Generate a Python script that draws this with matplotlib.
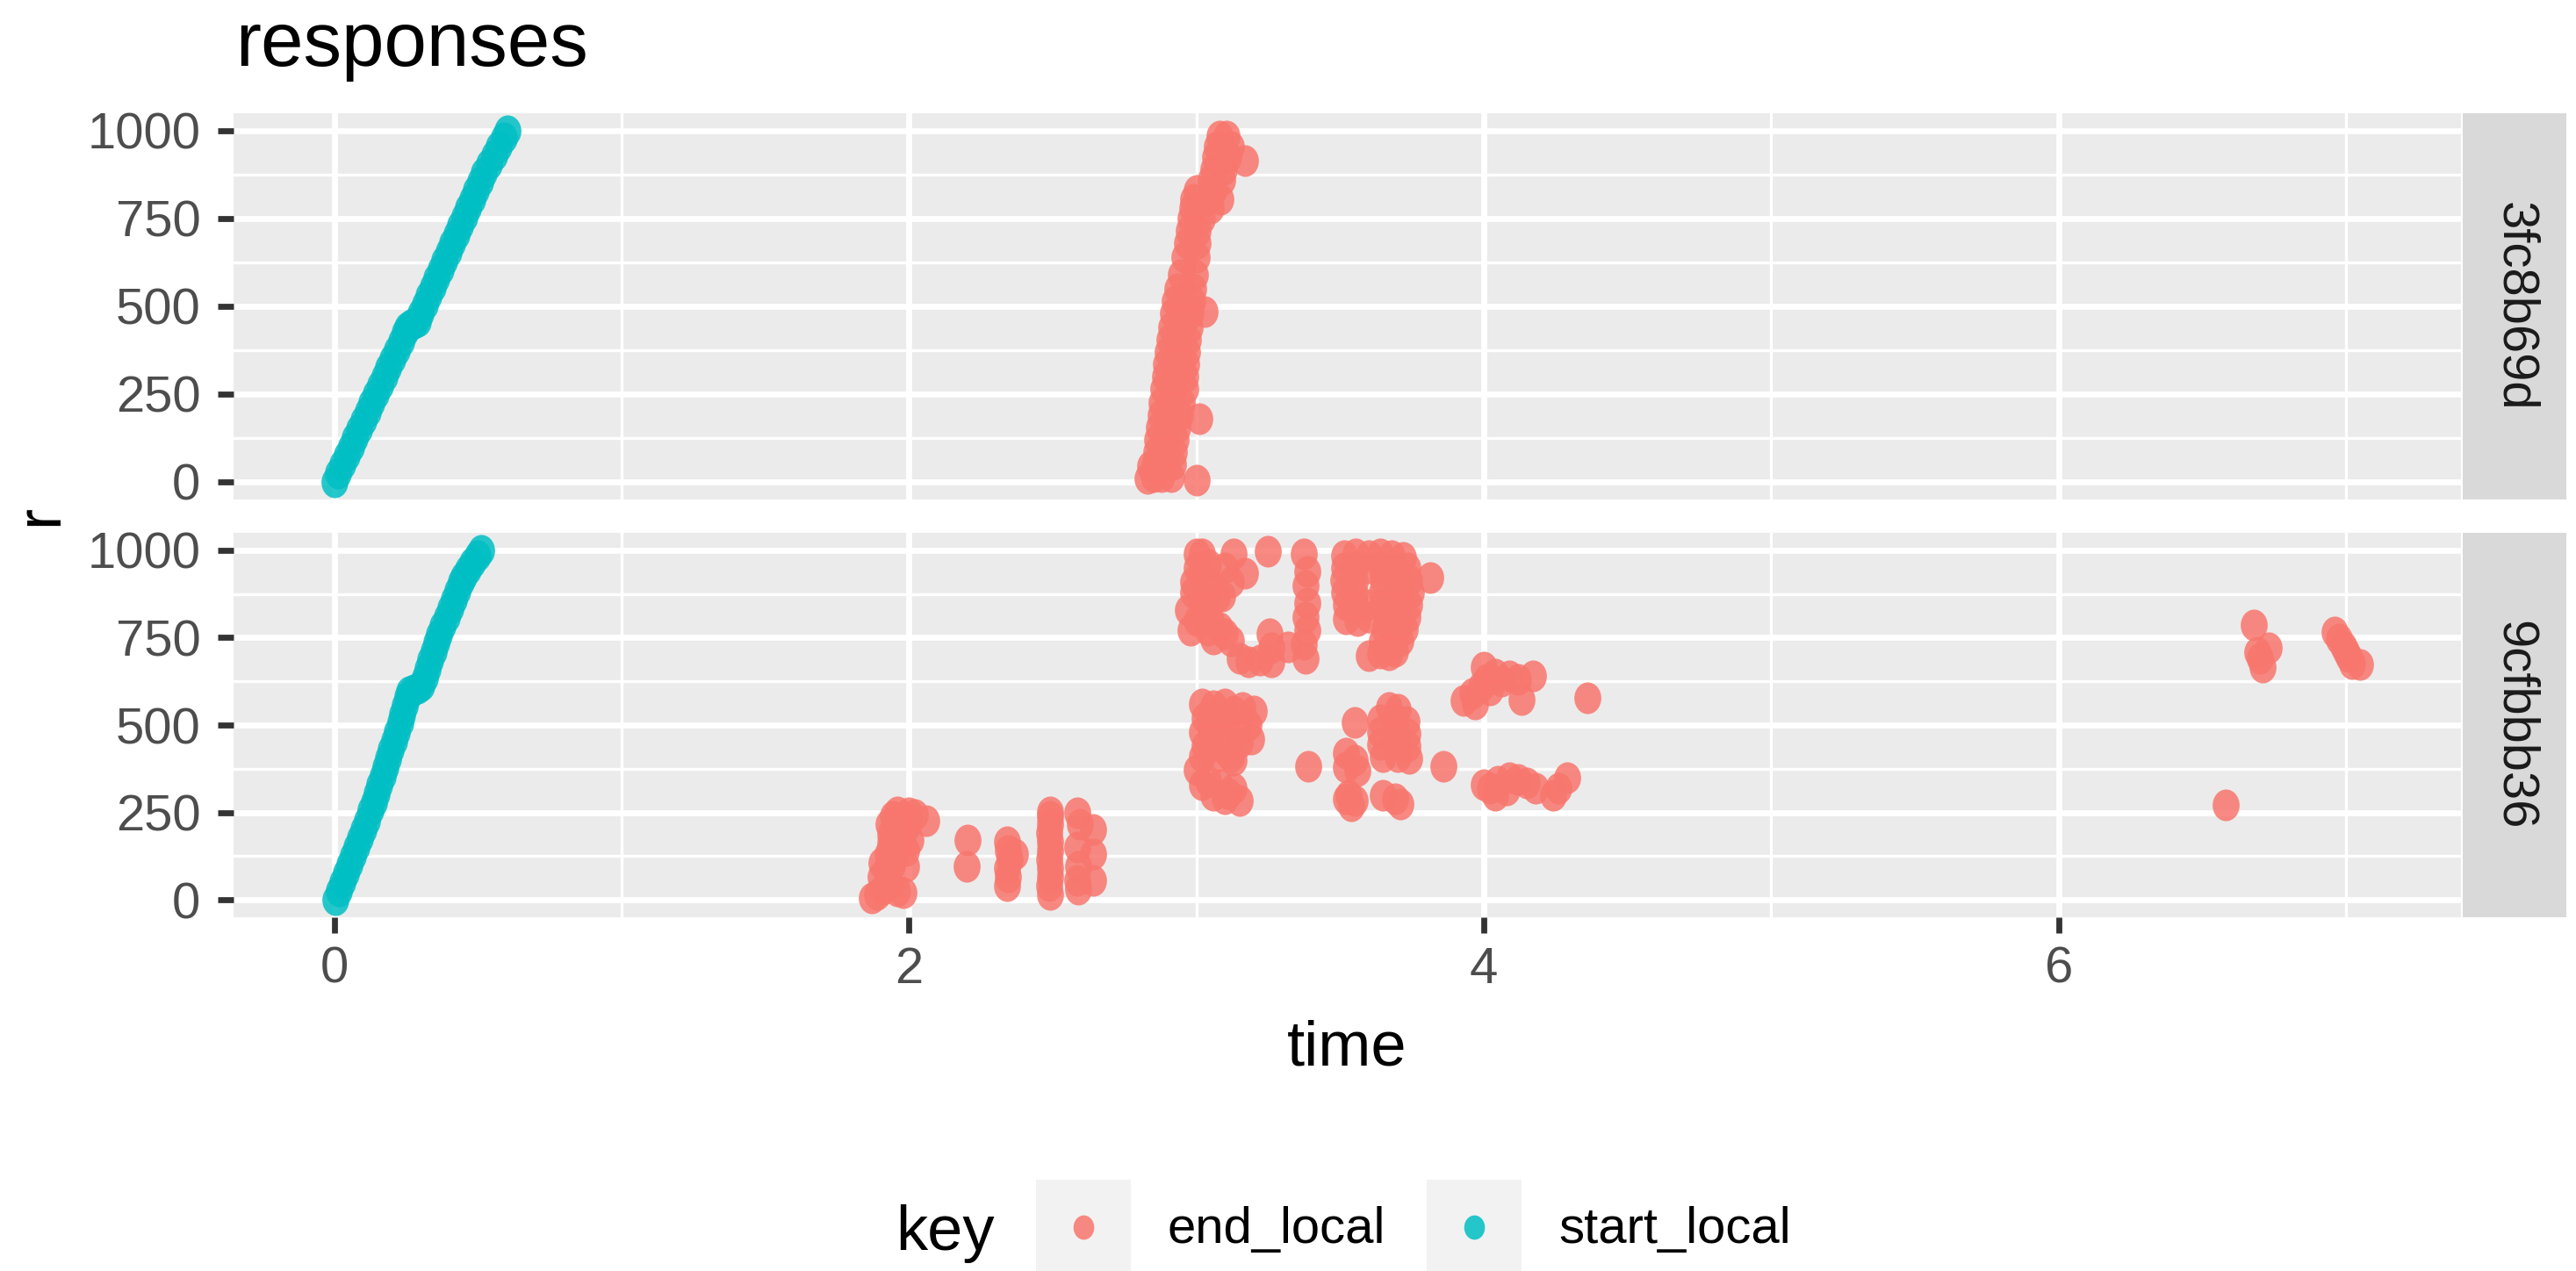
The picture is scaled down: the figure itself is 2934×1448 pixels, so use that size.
import numpy as np
import matplotlib
matplotlib.use("Agg")
import matplotlib.pyplot as plt
from matplotlib.path import Path
from matplotlib.patches import Rectangle
from matplotlib.lines import Line2D

# ---------------- data ----------------
facets = ["3fc8b69d", "9cfbbb36"]
keys = ["end_local", "start_local"]
key_colors = ["#F8766D", "#00BFC4"]
x_ticks = [0, 2, 4, 6]
y_ticks = [0, 250, 500, 750, 1000]

# facet 3fc8b69d, start_local
start_a_r = [0, 25, 50, 75, 100, 125, 150, 175, 200, 225, 250, 275, 300, 325, 350,
             375, 400, 425, 440, 447, 452, 458, 480, 505, 530, 555, 580, 605, 630,
             655, 680, 705, 730, 755, 780, 805, 830, 855, 880, 905, 930, 955, 980, 1000]
start_a_t = [0.0, 0.015, 0.029, 0.044, 0.058, 0.073, 0.087, 0.102, 0.116, 0.131, 0.145,
             0.160, 0.174, 0.189, 0.203, 0.218, 0.232, 0.247, 0.256, 0.266, 0.278, 0.290,
             0.302, 0.316, 0.329, 0.343, 0.357, 0.370, 0.384, 0.398, 0.411, 0.425, 0.439,
             0.452, 0.466, 0.480, 0.494, 0.508, 0.522, 0.538, 0.556, 0.573, 0.590, 0.604]

# facet 3fc8b69d, end_local
end_a_t = [2.850, 2.880, 2.914, 2.855, 2.885, 2.918, 2.860, 2.890, 2.922, 2.865, 2.895, 2.928,
           2.870, 2.900, 2.935, 2.875, 2.905, 2.942, 2.880, 2.910, 2.950, 2.884, 2.920, 2.960,
           2.890, 2.925, 2.962, 2.895, 2.930, 2.965, 2.900, 2.935, 2.968, 2.905, 2.940, 2.972,
           2.912, 2.945, 2.976, 2.920, 2.950, 2.980, 2.926, 2.955, 2.985,
           2.935, 2.990, 2.945, 2.995, 2.957, 3.000, 2.967, 3.003, 2.975, 3.005,
           2.980, 3.020, 2.985, 3.050, 2.990, 3.040, 3.085, 3.000, 3.060,
           3.050, 3.090, 3.058, 3.097, 3.065, 3.110, 3.070, 3.120, 3.080, 3.105,
           3.170, 3.000, 3.010, 3.030, 2.830, 2.840]
end_a_r = [15, 15, 15, 50, 50, 50, 85, 85, 85, 120, 120, 120,
           155, 155, 155, 190, 190, 190, 225, 225, 225, 265, 265, 265,
           300, 300, 300, 335, 335, 335, 370, 370, 370, 405, 405, 405,
           440, 440, 440, 480, 480, 480, 515, 515, 515,
           550, 550, 590, 590, 640, 640, 680, 680, 715, 715,
           750, 750, 780, 780, 805, 805, 805, 830, 830,
           860, 860, 890, 890, 925, 925, 955, 955, 985, 985,
           915, 5, 180, 485, 10, 45]

# facet 9cfbbb36, start_local
start_b_r = [0, 25, 50, 75, 100, 125, 150, 175, 200, 225, 256, 280, 305, 330, 355, 380,
             405, 430, 455, 480, 507, 530, 555, 580, 595, 600, 605, 612, 635, 660, 685,
             710, 735, 759, 785, 810, 835, 860, 885, 910, 925, 945, 965, 985, 1000]
start_b_t = [0.005, 0.017, 0.029, 0.041, 0.053, 0.065, 0.077, 0.089, 0.101, 0.113, 0.128,
             0.138, 0.148, 0.158, 0.168, 0.178, 0.188, 0.198, 0.208, 0.218, 0.229, 0.237,
             0.245, 0.254, 0.262, 0.275, 0.290, 0.305, 0.315, 0.325, 0.335, 0.345, 0.355,
             0.366, 0.378, 0.391, 0.404, 0.417, 0.429, 0.441, 0.449, 0.466, 0.482, 0.498,
             0.510]

# facet 9cfbbb36, end_local
end_b_t = [
    # around t = 1.9-2.05
    1.870, 1.890, 1.910, 1.930, 1.960, 1.980, 1.900, 1.920, 1.905, 1.940, 1.990,
    1.925, 1.950, 1.935, 1.960, 1.990, 1.935, 1.970, 2.005, 1.930, 1.955, 1.990,
    1.945, 1.975, 2.000, 2.060, 1.960, 2.000, 2.020,
    # t = 2.2
    2.203, 2.200,
    # t = 2.34
    2.340, 2.345, 2.350, 2.340, 2.345, 2.340, 2.370,
    # t = 2.49
    2.490, 2.487, 2.492, 2.490, 2.488, 2.491, 2.490, 2.489, 2.492, 2.490, 2.491,
    # t = 2.6
    2.585, 2.595, 2.640, 2.585, 2.640, 2.590, 2.585, 2.640, 2.590,
    # upper block t = 3.0-3.4
    3.020, 3.000, 3.030, 2.990, 3.020, 2.970, 3.000, 2.980, 3.040, 3.060, 3.070,
    3.130, 3.170, 3.090, 3.250, 3.375, 3.385, 3.380, 3.385, 3.380, 3.385, 3.375, 3.380,
    3.255, 3.260, 3.180, 3.220, 3.260, 3.150, 3.320,
    3.000, 3.040, 2.990, 3.050, 3.030, 3.050, 3.080, 3.100, 3.120, 3.100, 3.120,
    # upper big block t = 3.5-3.75
    3.515, 3.555, 3.515, 3.550, 3.510, 3.550, 3.515, 3.550, 3.520, 3.555, 3.520, 3.560,
    3.640, 3.680, 3.720, 3.645, 3.690, 3.735, 3.650, 3.700, 3.740, 3.645, 3.700, 3.745,
    3.650, 3.700, 3.740, 3.660, 3.700, 3.735, 3.655, 3.695, 3.725, 3.645, 3.680, 3.710,
    3.640, 3.670, 3.690, 3.600, 3.598, 3.595, 3.600, 3.600, 3.815,
    # lower block t = 3.0-3.2
    3.060, 3.100, 3.050, 3.090, 3.130, 3.160, 3.050, 3.090, 3.140, 3.050, 3.100, 3.150,
    3.000, 3.060, 3.100, 3.150, 3.020, 3.110, 3.130,
    3.020, 3.030, 3.020, 3.030, 3.020, 3.070, 3.120, 3.040, 3.080, 3.130, 3.200, 3.180,
    3.190,
    # lower block t = 3.4-3.9
    3.390, 3.550, 3.520, 3.550, 3.520, 3.560, 3.520, 3.540, 3.530, 3.550,
    3.670, 3.700, 3.640, 3.690, 3.730, 3.640, 3.690, 3.735, 3.640, 3.690, 3.735,
    3.650, 3.700, 3.740, 3.650, 3.690, 3.710, 3.860,
    # t = 3.9-4.4
    3.930, 3.960, 3.990, 4.010, 4.040, 3.970, 4.020, 4.060, 4.090, 4.120, 4.170, 4.130,
    4.000, 4.360,
    4.020, 4.050, 4.090, 4.120, 4.150, 4.180, 4.040, 4.080, 4.000,
    4.290, 4.260, 4.240,
    # t = 6.5-7.1
    6.580, 6.680, 6.690, 6.730, 6.710, 6.700,
    6.960, 6.975, 6.990, 7.000, 7.010, 7.020, 7.050]
end_b_r = [
    5, 15, 30, 45, 25, 20, 65, 85, 105, 100, 95,
    130, 125, 160, 150, 140, 185, 180, 170, 215, 210, 205,
    240, 235, 230, 226, 252, 250, 245,
    172, 95,
    166, 140, 115, 90, 65, 40, 130,
    15, 40, 65, 90, 115, 140, 165, 190, 215, 240, 252,
    250, 215, 200, 150, 130, 95, 55, 55, 30,
    990, 950, 920, 880, 860, 830, 800, 770, 770, 745, 866,
    990, 935, 870, 997, 990, 940, 900, 850, 810, 770, 730, 690,
    760, 720, 680, 685, 680, 690, 723,
    990, 960, 910, 900, 830, 800, 780, 760, 740, 950, 910,
    985, 990, 950, 950, 915, 910, 880, 875, 845, 840, 805, 800,
    990, 985, 980, 950, 945, 950, 915, 910, 915, 880, 875, 880,
    845, 840, 845, 810, 805, 810, 775, 770, 775, 740, 735, 740,
    705, 700, 710, 985, 950, 845, 810, 698, 922,
    555, 560, 520, 515, 540, 550, 480, 470, 490, 440, 430, 450,
    372, 300, 290, 285, 330, 305, 400,
    560, 520, 480, 440, 410, 410, 410, 340, 330, 320, 540, 500,
    460,
    382, 507, 420, 400, 380, 370, 290, 270, 300, 285,
    550, 545, 515, 515, 510, 480, 480, 475, 445, 445, 440,
    410, 410, 405, 300, 290, 275, 382,
    570, 590, 610, 630, 645, 560, 600, 625, 640, 630, 640, 573,
    665, 578,
    320, 340, 350, 345, 335, 320, 300, 315, 330,
    350, 320, 300,
    271, 786, 708, 720, 665, 690,
    766, 745, 725, 710, 695, 675, 673]

# ---------------- figure ----------------
W, H, DPI = 2934, 1448, 400
plt.rcParams['font.family'] = ['Liberation Sans', 'DejaVu Sans']
fig = plt.figure(figsize=(W / DPI, H / DPI), dpi=DPI)
fig.patch.set_facecolor('white')

def fx(px):
    return px / W

def fy(py):
    return 1 - py / H

PANEL_L, PANEL_R = 266, 2803
STRIP_L, STRIP_R = 2805, 2923
panels_y = [(129, 569), (607, 1045)]

# elliptical point marker (points in the reference are slightly taller than wide)
circ = Path.unit_circle()
ell = Path(circ.vertices * np.array([0.85, 1.0]), circ.codes)
PT = 6.5  # marker height in points

TXT = 10.45
TITLE = 15.7
AXT = 13.0

data = {
    facets[0]: {"end_local": (end_a_t, end_a_r), "start_local": (start_a_t, start_a_r)},
    facets[1]: {"end_local": (end_b_t, end_b_r), "start_local": (start_b_t, start_b_r)},
}

axes = []
for i, fac in enumerate(facets):
    top, bot = panels_y[i]
    ax = fig.add_axes([fx(PANEL_L), fy(bot), fx(PANEL_R - PANEL_L), (bot - top) / H])
    ax.set_facecolor('#EBEBEB')
    ax.set_xlim(-0.35, 7.40)
    ax.set_ylim(-50, 1050)
    ax.set_xticks(x_ticks)
    ax.set_xticks([1, 3, 5, 7], minor=True)
    ax.set_yticks(y_ticks)
    ax.set_yticks([125, 375, 625, 875], minor=True)
    ax.grid(True, which='major', color='white', linewidth=1.22)
    ax.grid(True, which='minor', color='white', linewidth=0.61)
    ax.set_axisbelow(True)
    for s in ax.spines.values():
        s.set_visible(False)
    ax.tick_params(axis='both', which='major', length=3.25, width=1.22, color='#333333',
                   labelsize=TXT, labelcolor='#4D4D4D')
    ax.tick_params(axis='y', which='major', pad=3.5)
    ax.tick_params(axis='x', which='major', pad=2.6)
    ax.tick_params(which='minor', length=0)
    if i == 0:
        ax.tick_params(axis='x', which='major', labelbottom=False, length=0)
    for k, col in zip(keys, key_colors):
        t, r = data[fac][k]
        ax.scatter(t, r, marker=ell, s=PT ** 2, color=col, alpha=0.85,
                   linewidths=0, zorder=3)
    axes.append(ax)

    # facet strip
    sax = fig.add_axes([fx(STRIP_L), fy(bot), fx(STRIP_R - STRIP_L), (bot - top) / H])
    sax.set_facecolor('#D9D9D9')
    sax.set_xticks([])
    sax.set_yticks([])
    for s in sax.spines.values():
        s.set_visible(False)
    sax.text(0.5, 0.5, fac, rotation=-90, ha='center', va='center',
             fontsize=TXT, color='#1A1A1A', transform=sax.transAxes)

# titles
fig.text(fx(268), fy(75), "responses", fontsize=TITLE, color='black',
         ha='left', va='baseline')
fig.text(fx(47), fy(587), "r", fontsize=AXT, color='black', rotation=90,
         ha='center', va='center')
fig.text(fx((PANEL_L + PANEL_R) / 2), fy(1214), "time", fontsize=AXT, color='black',
         ha='center', va='baseline')

# legend (bottom)
fig.text(fx(1020), fy(1424), "key", fontsize=AXT, color='black', ha='left', va='baseline')
box_x = [1180, 1625]
lab_x = [1330, 1775]
for bx, lx, k, col in zip(box_x, lab_x, keys, key_colors):
    fig.add_artist(Rectangle((fx(bx), fy(1454)), fx(108), 110 / H,
                             transform=fig.transFigure, facecolor='#F2F2F2',
                             edgecolor='none'))
    fig.add_artist(Line2D([fx(bx + 54)], [fy(1398)], marker=ell, markersize=5.0,
                          color=col, alpha=0.85, markeredgewidth=0, linestyle='none',
                          transform=fig.transFigure))
    fig.text(fx(lx), fy(1416), k, fontsize=TXT, color='black', ha='left',
             va='baseline')

fig.savefig("out.png", dpi=DPI, facecolor='white')
